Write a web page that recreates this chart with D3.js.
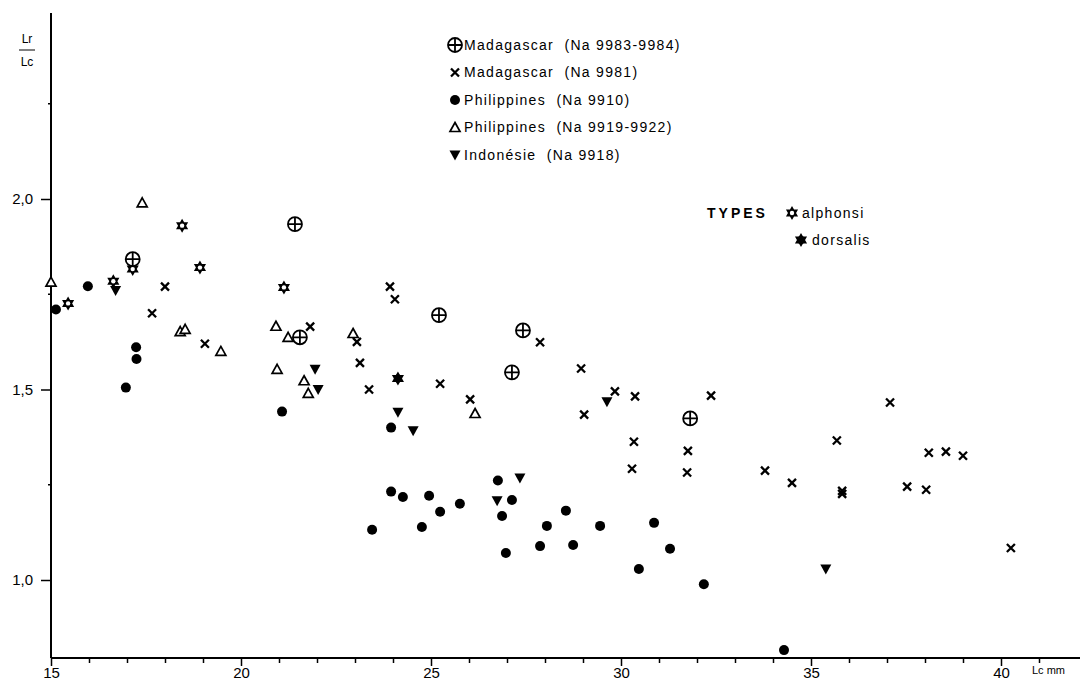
<!DOCTYPE html>
<html>
<head>
<meta charset="utf-8">
<script src="https://cdn.jsdelivr.net/npm/d3@7"></script>
<style>
  body { margin: 0; background: #fff; }
  svg { display: block; font-family: "Liberation Sans", Arial, sans-serif; }
  .lbl { font-size: 14px; letter-spacing: 1.3px; white-space: pre; }
</style>
</head>
<body>
<svg id="chart" width="1080" height="681"></svg>
<script>
// Madagascar (Na 9983-9984)  - circled cross
var madaPlusX = [17.15, 21.42, 21.55, 25.21, 27.42, 27.13, 31.82];
var madaPlusY = [1.842, 1.934, 1.637, 1.695, 1.655, 1.545, 1.424];

// Madagascar (Na 9981) - x
var madaX = [17.66, 18.0, 19.05, 21.82, 23.05, 23.13, 23.37, 23.92, 24.05, 25.24, 26.03, 27.87,
             28.95, 29.03, 29.84, 30.37, 30.34, 30.29, 31.76, 31.74, 32.37, 33.79, 34.5, 35.68,
             35.82, 35.82, 37.08, 37.53, 38.03, 38.1, 38.55, 39.0, 40.26];
var madaY = [1.70, 1.77, 1.62, 1.665, 1.625, 1.57, 1.50, 1.77, 1.737, 1.515, 1.474, 1.624,
             1.555, 1.434, 1.495, 1.482, 1.363, 1.292, 1.339, 1.282, 1.484, 1.287, 1.255, 1.366,
             1.234, 1.226, 1.466, 1.245, 1.237, 1.334, 1.337, 1.326, 1.084];

// Philippines (Na 9910) - dot
var philDotX = [15.13, 15.97, 16.97, 17.24, 17.25, 21.08, 23.95, 23.95, 24.26, 24.95, 25.24, 25.76,
                26.76, 27.13, 23.45, 24.76, 26.87, 28.55, 28.05, 29.45, 30.87, 26.97, 27.87, 28.74,
                31.29, 30.47, 32.18, 34.29];
var philDotY = [1.71, 1.771, 1.505, 1.611, 1.58, 1.442, 1.40, 1.232, 1.218, 1.221, 1.179, 1.20,
                1.261, 1.21, 1.132, 1.139, 1.168, 1.182, 1.142, 1.142, 1.15, 1.071, 1.089, 1.092,
                1.082, 1.029, 0.989, 0.816];

// Philippines (Na 9919-9922) - open triangle
var philTriX = [15.0, 17.4, 18.4, 18.53, 19.47, 20.92, 21.24, 20.95, 21.66, 21.77, 22.95, 26.16];
var philTriY = [1.782, 1.99, 1.652, 1.658, 1.60, 1.666, 1.637, 1.553, 1.523, 1.49, 1.647, 1.437];

// Indonesie (Na 9918) - filled down triangle
var indoX = [16.7, 21.95, 22.03, 24.13, 24.53, 26.74, 27.34, 29.63, 35.39];
var indoY = [1.76, 1.553, 1.50, 1.44, 1.392, 1.208, 1.268, 1.468, 1.029];

// types
var alphX = [15.45, 16.64, 17.15, 18.45, 18.92, 21.13];
var alphY = [1.726, 1.784, 1.816, 1.93, 1.82, 1.768];
var dorsX = [24.13];
var dorsY = [1.529];

var xMajor = [15, 20, 25, 30, 35, 40];
var yMajor = [1.0, 1.5, 2.0];
var yMinor = [1.25, 1.75, 2.25];

var legendRows = [
  {sym: "oplus", text: "Madagascar  (Na 9983-9984)"},
  {sym: "cross", text: "Madagascar  (Na 9981)"},
  {sym: "dot", text: "Philippines  (Na 9910)"},
  {sym: "tri", text: "Philippines  (Na 9919-9922)"},
  {sym: "down", text: "Indonésie  (Na 9918)"}
];

var svg = d3.select("#chart");

var x = d3.scaleLinear().domain([15, 40]).range([51, 1001]);
var y = d3.scaleLinear().domain([1, 2]).range([580, 199]);

var axisY0 = 658, axisTop = 13;

// axis lines
svg.append("line").attr("x1", 51).attr("x2", 1080).attr("y1", axisY0).attr("y2", axisY0)
   .attr("stroke", "#000").attr("stroke-width", 2);
svg.append("line").attr("x1", 51).attr("x2", 51).attr("y1", axisTop).attr("y2", axisY0)
   .attr("stroke", "#000").attr("stroke-width", 2);

// x ticks
var xAxis = d3.axisBottom(x).tickValues(d3.range(15, 42, 1)).tickSize(5)
   .tickFormat(function(d) { return xMajor.indexOf(d) >= 0 ? d : ""; }).tickPadding(6);
var gx = svg.append("g").attr("transform", "translate(0," + axisY0 + ")").call(xAxis);
gx.select(".domain").remove();
gx.selectAll(".tick line").attr("stroke-width", 1.5)
  .attr("y2", function(d) { return xMajor.indexOf(d) >= 0 ? 8 : 5; });
gx.selectAll(".tick text").attr("font-size", 15).attr("font-family", "Liberation Sans, Arial, sans-serif")
  .attr("fill", "#000").attr("dy", "0.6em");

svg.append("text").attr("x", 1032).attr("y", 674).attr("font-size", 11).text("Lc mm");

// y ticks
var yAxis = d3.axisLeft(y).tickValues(yMajor).tickSize(10).tickPadding(8)
   .tickFormat(function(d) { return d3.format(".1f")(d).replace(".", ","); });
var gy = svg.append("g").attr("transform", "translate(51,0)").call(yAxis);
gy.select(".domain").remove();
gy.selectAll(".tick line").attr("stroke-width", 1.5);
gy.selectAll(".tick text").attr("font-size", 15).attr("font-family", "Liberation Sans, Arial, sans-serif")
  .attr("fill", "#000");

svg.append("g").selectAll("line").data(yMinor).enter().append("line")
   .attr("x1", 48).attr("x2", 51).attr("y1", function(d) { return y(d); }).attr("y2", function(d) { return y(d); })
   .attr("stroke", "#000").attr("stroke-width", 1.5);

// y label fraction
svg.append("text").attr("x", 27).attr("y", 43).attr("text-anchor", "middle").attr("font-size", 12).text("Lr");
svg.append("line").attr("x1", 19).attr("x2", 35).attr("y1", 50).attr("y2", 50).attr("stroke", "#000").attr("stroke-width", 1);
svg.append("text").attr("x", 27).attr("y", 66).attr("text-anchor", "middle").attr("font-size", 12).text("Lc");

// symbol drawers
function hexStar(r) {
  var pts = [];
  for (var i = 0; i < 12; i++) {
    var a = Math.PI / 6 * i - Math.PI / 2;
    var rr = i % 2 === 0 ? r : r * 0.58;
    pts.push([rr * Math.cos(a), rr * Math.sin(a)]);
  }
  return "M" + pts.join("L") + "Z";
}

function drawSym(g, type) {
  if (type === "oplus") {
    g.append("circle").attr("r", 7).attr("fill", "#fff").attr("stroke", "#000").attr("stroke-width", 1.8);
    g.append("path").attr("d", "M-7,0H7M0,-7V7").attr("stroke", "#000").attr("stroke-width", 1.8);
  } else if (type === "cross") {
    g.append("path").attr("d", "M-4,-4L4,4M-4,4L4,-4").attr("stroke", "#000").attr("stroke-width", 2.3);
  } else if (type === "dot") {
    g.append("circle").attr("r", 5).attr("fill", "#000");
  } else if (type === "tri") {
    g.append("path").attr("d", "M0,-5L5,4L-5,4Z").attr("fill", "#fff").attr("stroke", "#000").attr("stroke-width", 1.7);
  } else if (type === "down") {
    g.append("path").attr("d", "M-5.5,-4.5L5.5,-4.5L0,5.5Z").attr("fill", "#000");
  } else if (type === "alph") {
    g.append("path").attr("d", hexStar(7)).attr("fill", "#000");
    g.append("circle").attr("r", 2.2).attr("fill", "#fff");
  } else if (type === "dors") {
    g.append("path").attr("d", hexStar(7)).attr("fill", "#000");
    g.append("circle").attr("r", 4).attr("fill", "#000");
  }
}

function plotSeries(xs, ys, type) {
  var pts = xs.map(function(d, i) { return {x: d, y: ys[i]}; });
  svg.append("g").selectAll("g").data(pts).enter().append("g")
     .attr("transform", function(d) { return "translate(" + x(d.x) + "," + y(d.y) + ")"; })
     .each(function() { drawSym(d3.select(this), type); });
}

plotSeries(philTriX, philTriY, "tri");
plotSeries(philDotX, philDotY, "dot");
plotSeries(madaX, madaY, "cross");
plotSeries(indoX, indoY, "down");
plotSeries(alphX, alphY, "alph");
plotSeries(dorsX, dorsY, "dors");
plotSeries(madaPlusX, madaPlusY, "oplus");

// legend
var leg = svg.append("g").selectAll("g").data(legendRows).enter().append("g")
   .attr("transform", function(d, i) { return "translate(455," + (45 + i * 27.5) + ")"; });
leg.each(function(d) { drawSym(d3.select(this), d.sym); });
leg.append("text").attr("class", "lbl").attr("x", 9).attr("dy", "0.35em").text(function(d) { return d.text; });

svg.append("text").attr("class", "lbl").attr("x", 707).attr("y", 213).attr("dy", "0.35em")
   .attr("font-weight", "bold").attr("font-size", 15).attr("letter-spacing", 3).style("letter-spacing", "3px")
   .text("TYPES");
var t1 = svg.append("g").attr("transform", "translate(792,213)");
drawSym(t1, "alph");
t1.append("text").attr("class", "lbl").attr("x", 10).attr("dy", "0.35em").text("alphonsi");
var t2 = svg.append("g").attr("transform", "translate(801,240)");
drawSym(t2, "dors");
t2.append("text").attr("class", "lbl").attr("x", 11).attr("dy", "0.35em").text("dorsalis");
</script>
</body>
</html>
